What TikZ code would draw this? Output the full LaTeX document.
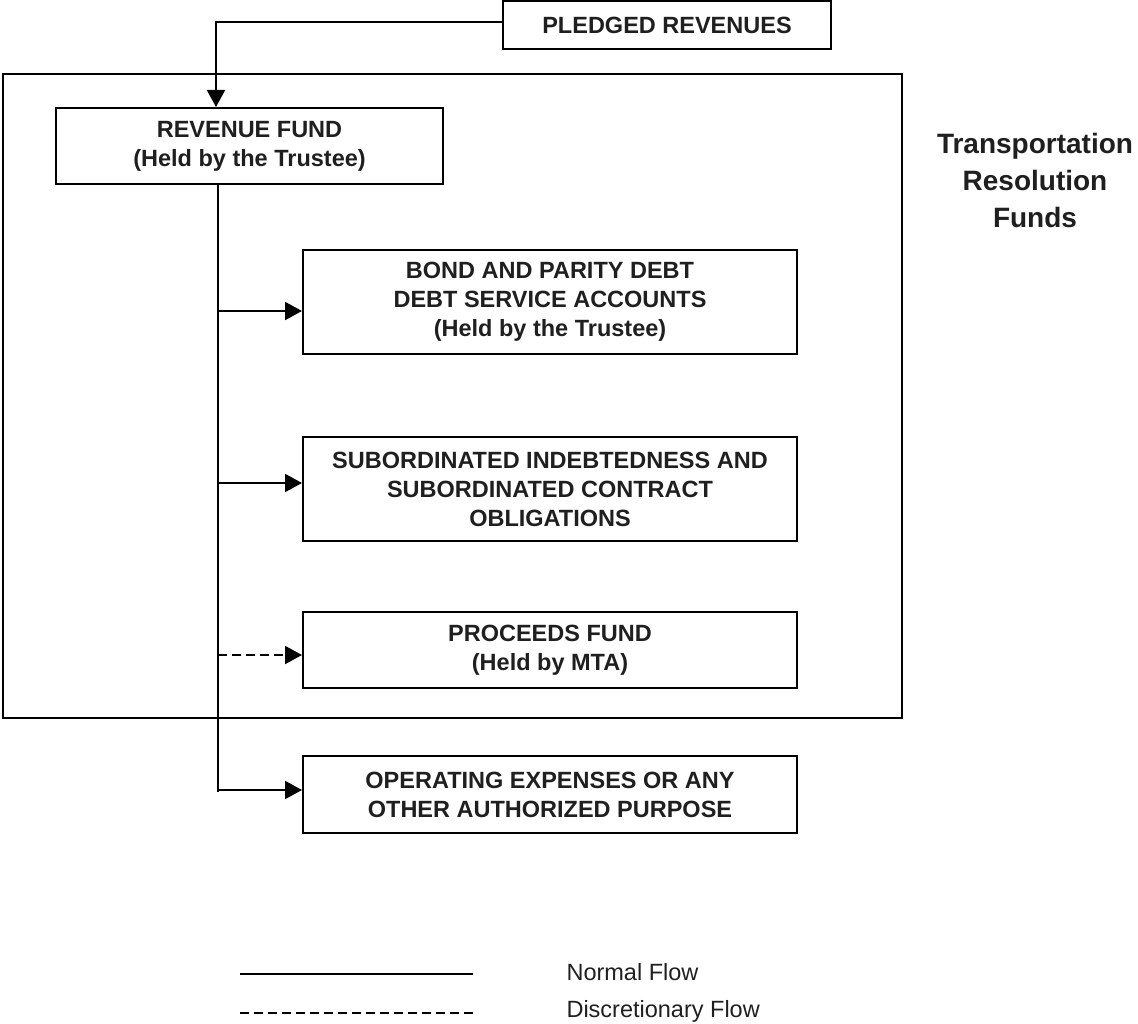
\documentclass[tikz,border=0pt]{standalone}
\usepackage{fontspec}
\setmainfont{Liberation Sans}
\usetikzlibrary{arrows.meta}
\begin{document}
\begin{tikzpicture}[x=1pt,y=-1pt,
  fundbox/.style={draw=black,line width=2pt,minimum width=#1,align=center,inner sep=0pt,
    font=\fontsize{23.5}{29}\selectfont\bfseries,text=black!88},
  flow/.style={line width=2pt,-{Triangle[length=17pt,width=18pt]}},
  plain/.style={line width=2pt},
  disc/.style={line width=2pt,dash pattern=on 9pt off 5pt},
  legendtext/.style={anchor=west,font=\fontsize{23.5}{28}\selectfont,text=black!88},
  title/.style={align=center,font=\fontsize{28}{37}\selectfont\bfseries,text=black!88}]
\useasboundingbox (0,0) rectangle (1138,1024);
% outer frame
\draw[line width=2.5pt] (3,74) rectangle (902,718);
% boxes
\node[fundbox=328pt,minimum height=48pt] (pledged) at (667,25) {PLEDGED REVENUES};
\node[fundbox=387pt,minimum height=76pt] (revenue) at (249.5,146) {REVENUE FUND\\(Held by the Trustee)};
\node[fundbox=494pt,minimum height=104pt] (bond) at (550,302) {BOND AND PARITY DEBT\\DEBT SERVICE ACCOUNTS\\(Held by the Trustee)};
\node[fundbox=494pt,minimum height=104pt] (sub) at (550,489) {SUBORDINATED INDEBTEDNESS AND\\SUBORDINATED CONTRACT\\OBLIGATIONS};
\node[fundbox=494pt,minimum height=76pt] (proc) at (550,650) {PROCEEDS FUND\\(Held by MTA)};
\node[fundbox=494pt,minimum height=77pt] (oper) at (550,794.5) {OPERATING EXPENSES OR ANY\\OTHER AUTHORIZED PURPOSE};
\node[title] (ttl) at (1035,180) {Transportation\\Resolution\\Funds};
% pledged connector
\coordinate (pl) at (216,22);
\draw[flow] (pledged.west |- pl) -- (pl) -- (pl |- revenue.north);
% trunk
\coordinate (tt) at (218,184);
\coordinate (tb) at (218,792);
\draw[plain] (tt |- revenue.south) -- (tb);
\coordinate (a1) at (218,311);
\coordinate (a2) at (218,483);
\coordinate (a3) at (218,655);
\coordinate (a4) at (218,790);
\draw[flow] (a1) -- (a1 -| bond.west);
\draw[flow] (a2) -- (a2 -| sub.west);
\draw[flow,dash pattern=on 9pt off 5pt] (a3) -- (a3 -| proc.west);
\draw[flow] (a4) -- (a4 -| oper.west);
% legend
\coordinate (ls1) at (240,974);
\coordinate (le1) at (473,974);
\coordinate (ls2) at (240,1013);
\coordinate (le2) at (473,1013);
\draw[plain] (ls1) -- (le1);
\draw[disc] (ls2) -- (le2);
\node[legendtext] (n1) at (563,972) {Normal Flow};
\node[legendtext] (n2) at (563,1011) {Discretionary Flow};
\end{tikzpicture}
\end{document}
